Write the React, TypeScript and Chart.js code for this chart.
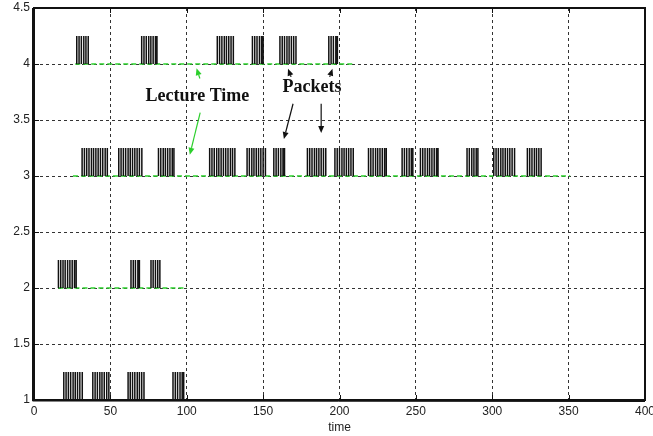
import { useEffect, useRef } from "react";
import { Chart, registerables } from "chart.js";

Chart.register(...registerables);

// Packet arrival times (in time units) for each lecture row
const PACKETS_ROW1 = [
  19.5, 21, 22.5, 24, 25.6, 27, 28.5, 30, 31.6,
  38.5, 40, 41.5, 43.1, 44.5, 46, 47.6, 49,
  61.6, 63, 64.5, 66, 67.6, 69, 70.5, 72,
  91, 92.5, 94, 95.6, 97, 98,
];
const PACKETS_ROW2 = [
  16, 17.5, 19, 20.4, 22, 23.5, 25, 26.5, 27.6,
  63.5, 65, 66.4, 68, 69,
  76.6, 78, 79.5, 81, 82.4,
];
const PACKETS_ROW3 = [
  31.5, 33, 34.5, 36, 37.6, 39, 40.5, 42, 43.5, 45, 46.6, 48,
  55.5, 57, 58.5, 60, 61.6, 63, 64.5, 66, 67.5, 69, 70.6,
  81.5, 83, 84.6, 86, 87.5, 89, 90.5, 91.6,
  115, 116.5, 118, 119.6, 121, 122.5, 124, 125.5, 127, 128.6, 130, 131.5,
  139.5, 141, 142.6, 144, 145.5, 147, 148.5, 150, 151.5,
  157, 158.5, 160, 161.6, 163, 164,
  179, 180.5, 182, 183.6, 185, 186.5, 188, 189.5, 191,
  197, 198.5, 200, 201.6, 203, 204.5, 206, 207.5, 209,
  219, 220.5, 222, 223.6, 225, 226.5, 228, 229.5, 230.6,
  241, 242.5, 244, 245.6, 247, 248,
  253, 254.5, 256, 257.6, 259, 260.5, 262, 263.5, 264.5,
  283.5, 285, 286.6, 288, 289.5, 290.6,
  301, 302.5, 304, 305.6, 307, 308.5, 310, 311.5, 313, 314.6,
  323, 324.5, 326, 327.6, 329, 330.5, 332,
];
const PACKETS_ROW4 = [
  28, 29.5, 31, 32.6, 34, 35.5,
  70.5, 72, 73.5, 75.1, 76.5, 78, 79.5, 80.5,
  120, 121.5, 123, 124.6, 126, 127.5, 129, 130.5,
  143, 144.5, 146, 147.6, 149, 150,
  161, 162.5, 164, 165.6, 167, 168.5, 170, 171.5,
  193, 194.5, 196, 197.6, 198.6,
];

// Lecture intervals [start, end] per row
const LECTURE_ROW1 = [8.5, 106];
const LECTURE_ROW2 = [16, 100];
const LECTURE_ROW3 = [25.5, 351];
const LECTURE_ROW4 = [27, 209];

const ROW_LEVELS = [1, 2, 3, 4];
const PACKET_HEIGHT = 0.25;

const X_TICKS = [0, 50, 100, 150, 200, 250, 300, 350, 400];
const Y_TICKS = [1, 1.5, 2, 2.5, 3, 3.5, 4, 4.5];

const GREEN = "#2ccf2c";
const INK = "#111111";

// Text callouts and arrows, placed in data coordinates
const CALLOUTS = [
  { text: "Lecture Time", x: 107, y: 3.71 },
  { text: "Packets", x: 182, y: 3.79 },
];
const ARROWS = [
  { from: [108.6, 3.87], to: [106.4, 3.962], color: GREEN },
  { from: [108.8, 3.565], to: [102, 3.19], color: GREEN },
  { from: [169.6, 3.645], to: [163.6, 3.33], color: INK },
  { from: [188, 3.645], to: [188, 3.385], color: INK },
  { from: [168.3, 3.885], to: [166.3, 3.958], color: INK },
  { from: [193.6, 3.885], to: [195.4, 3.958], color: INK },
];

function packetSegments(times: number[], level: number) {
  const pts: { x: number; y: number | null }[] = [];
  for (const t of times) {
    pts.push({ x: t, y: level });
    pts.push({ x: t, y: level + PACKET_HEIGHT });
    pts.push({ x: t, y: null });
  }
  return pts;
}

const framePlugin = {
  id: "frame",
  afterDatasetsDraw(chart: any) {
    const { ctx, chartArea: a, scales } = chart;
    const xs = scales.x;
    const ys = scales.y;
    ctx.save();
    // inward tick marks on all four sides
    ctx.strokeStyle = INK;
    ctx.lineWidth = 1;
    ctx.setLineDash([]);
    ctx.beginPath();
    for (const v of X_TICKS) {
      const px = Math.round(xs.getPixelForValue(v)) + 0.5;
      ctx.moveTo(px, a.bottom);
      ctx.lineTo(px, a.bottom - 5);
      ctx.moveTo(px, a.top);
      ctx.lineTo(px, a.top + 5);
    }
    for (const v of Y_TICKS) {
      const py = Math.round(ys.getPixelForValue(v)) + 0.5;
      ctx.moveTo(a.left, py);
      ctx.lineTo(a.left + 5, py);
      ctx.moveTo(a.right, py);
      ctx.lineTo(a.right - 5, py);
    }
    ctx.stroke();

    // axes box
    ctx.lineWidth = 2;
    ctx.strokeStyle = INK;
    ctx.strokeRect(a.left, a.top, a.right - a.left, a.bottom - a.top);
    ctx.lineWidth = 1;
    ctx.beginPath();
    ctx.moveTo(a.left - 1.5, a.top);
    ctx.lineTo(a.left - 1.5, a.bottom + 1);
    ctx.lineTo(a.right, a.bottom + 1.5);
    ctx.stroke();

    // arrows
    for (const ar of ARROWS) {
      const x1 = xs.getPixelForValue(ar.from[0]);
      const y1 = ys.getPixelForValue(ar.from[1]);
      const x2 = xs.getPixelForValue(ar.to[0]);
      const y2 = ys.getPixelForValue(ar.to[1]);
      const ang = Math.atan2(y2 - y1, x2 - x1);
      const head = 7;
      const half = 3;
      const bx = x2 - head * Math.cos(ang);
      const by = y2 - head * Math.sin(ang);
      ctx.strokeStyle = ar.color;
      ctx.fillStyle = ar.color;
      ctx.lineWidth = 1.2;
      ctx.beginPath();
      ctx.moveTo(x1, y1);
      ctx.lineTo(bx, by);
      ctx.stroke();
      ctx.beginPath();
      ctx.moveTo(x2, y2);
      ctx.lineTo(bx + half * Math.sin(ang), by - half * Math.cos(ang));
      ctx.lineTo(bx - half * Math.sin(ang), by + half * Math.cos(ang));
      ctx.closePath();
      ctx.fill();
    }

    // text callouts
    ctx.fillStyle = INK;
    ctx.font = 'bold 18px "Liberation Serif", "Times New Roman", serif';
    ctx.textAlign = "center";
    ctx.textBaseline = "middle";
    for (const c of CALLOUTS) {
      ctx.fillText(c.text, xs.getPixelForValue(c.x), ys.getPixelForValue(c.y));
    }
    ctx.restore();
  },
};

export default function App() {
  const canvasRef = useRef<HTMLCanvasElement | null>(null);

  useEffect(() => {
    const canvas = canvasRef.current;
    if (!canvas) return;

    const rows = [PACKETS_ROW1, PACKETS_ROW2, PACKETS_ROW3, PACKETS_ROW4];
    const lectures = [LECTURE_ROW1, LECTURE_ROW2, LECTURE_ROW3, LECTURE_ROW4];

    const packetSets = rows.map((times, i) => ({
      label: `Packets ${i + 1}`,
      data: packetSegments(times, ROW_LEVELS[i]),
      borderColor: INK,
      borderWidth: 1.5,
      pointRadius: 0,
      spanGaps: false,
      tension: 0,
      order: 1,
    }));
    const lectureSets = lectures.map((iv, i) => ({
      label: `Lecture ${i + 1}`,
      data: [
        { x: iv[0], y: ROW_LEVELS[i] },
        { x: iv[1], y: ROW_LEVELS[i] },
      ],
      borderColor: GREEN,
      borderWidth: 1.5,
      borderDash: [5, 3],
      pointRadius: 0,
      tension: 0,
      order: 2,
    }));

    const tickFont = { family: '"Liberation Sans", Arial, sans-serif', size: 12 };

    const chart = new Chart(canvas, {
      type: "line",
      data: { datasets: [...packetSets, ...lectureSets] as any },
      options: {
        animation: false,
        responsive: false,
        maintainAspectRatio: false,
        layout: { padding: { top: 8, right: 8, left: 0, bottom: 0 } },
        plugins: { legend: { display: false }, tooltip: { enabled: false } },
        scales: {
          x: {
            type: "linear",
            min: 0,
            max: 400,
            afterBuildTicks: (s: any) => {
              s.ticks = X_TICKS.map((v) => ({ value: v }));
            },
            afterFit: (s: any) => {
              s.height = 36;
              s.paddingLeft = 0;
              s.paddingRight = 0;
            },
            ticks: {
              font: tickFont,
              color: "#222",
              padding: 4,
              maxRotation: 0,
              autoSkip: false,
              callback: (v: any) => String(v),
            },
            grid: { color: "#333", lineWidth: 1, drawTicks: false },
            border: { display: false, dash: [3, 3] },
            title: {
              display: true,
              text: "time",
              font: tickFont,
              color: "#222",
              padding: { top: 0, bottom: 1 },
            },
          },
          y: {
            type: "linear",
            min: 1,
            max: 4.5,
            afterBuildTicks: (s: any) => {
              s.ticks = Y_TICKS.map((v) => ({ value: v }));
            },
            afterFit: (s: any) => {
              s.width = 34;
              s.paddingTop = 0;
              s.paddingBottom = 0;
            },
            ticks: {
              font: tickFont,
              color: "#222",
              padding: 4,
              autoSkip: false,
              callback: (v: any) => String(v),
            },
            grid: { color: "#333", lineWidth: 1, drawTicks: false },
            border: { display: false, dash: [3, 3] },
          },
        },
      },
      plugins: [framePlugin],
    });

    return () => chart.destroy();
  }, []);

  return (
    <div style={{ position: "fixed", left: 0, top: 0, width: 653, height: 436, background: "#fff" }}>
      <canvas ref={canvasRef} width={653} height={436} style={{ width: 653, height: 436 }} />
    </div>
  );
}
